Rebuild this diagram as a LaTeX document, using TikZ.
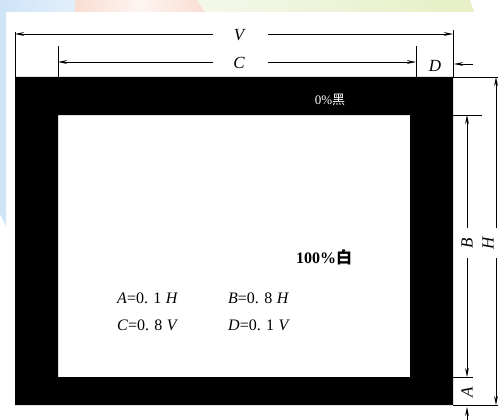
\documentclass[tikz,border=0pt]{standalone}
\usepackage{fontspec}
\setmainfont{Liberation Serif}
\newfontfamily\cjk{Noto Sans CJK SC}
\usetikzlibrary{arrows.meta}
\definecolor{bgblue}{HTML}{CFE4F8}
\definecolor{bgbluel}{HTML}{E2EFFB}
\definecolor{bgpink}{HTML}{FADDD2}
\definecolor{bgpinkl}{HTML}{FDF5F1}
\definecolor{bggreen}{HTML}{E6EFC4}
\definecolor{bggreenl}{HTML}{F3F8EA}
\begin{document}
\begin{tikzpicture}[x=1pt,y=-1pt,
  dim/.style={line width=0.8pt},
  arr/.style={dim,-{Stealth[length=9pt,width=3.8pt]}},
  lbl/.style={inner sep=0pt,font=\fontsize{17}{17}\selectfont\itshape},
  eq/.style={inner sep=0pt,anchor=west,font=\fontsize{16}{16}\selectfont}]
\useasboundingbox (0,0) rectangle (498,420);
\fill[white] (0,0) rectangle (498,420);
% decorative background
\shade[left color=bgblue,right color=bgbluel] (0,0) -- (75,0) -- (75,12) -- (6,12) -- (6,226) -- (0,214) -- cycle;
\shade[left color=bgpink,right color=bgpink,middle color=bgpinkl] (75,0) -- (197,0) -- (205,12) -- (75,12) -- cycle;
\shade[left color=bggreenl,right color=bggreen] (197,0) -- (470,0) -- (474,12) -- (205,12) -- cycle;
% black frame
\fill[black,even odd rule] (15,77) rectangle (453,405) (58,115) rectangle (410,377);
% coordinates
\coordinate (oTL) at (15,77);
\coordinate (oTR) at (453,77);
\coordinate (oBR) at (453,405);
\coordinate (cL) at (58,77);
\coordinate (cR) at (416,77);
\coordinate (eTL) at (15,32);
\coordinate (eTR) at (453,30);
\coordinate (ecL) at (58,46);
\coordinate (ecR) at (416,46);
\coordinate (hT) at (498,77);
\coordinate (hB) at (498,405);
\coordinate (bT0) at (453,115);
\coordinate (bT1) at (482,115);
\coordinate (bB0) at (453,377);
\coordinate (bB1) at (473,377);
% extension lines
\draw[dim] (eTL) -- (oTL);
\draw[dim] (eTR) -- (oTR);
\draw[dim] (ecL) -- (cL);
\draw[dim] (ecR) -- (cR);
\draw[dim] (oTR) -- (hT);
\draw[dim] (bT0) -- (bT1);
\draw[dim] (bB0) -- (bB1);
\draw[dim] (oBR) -- (hB);
% V
\node[lbl] (V) at (239,35) {V};
\coordinate (V1) at (213,34); \coordinate (V0) at (15,34);
\coordinate (V2) at (268,34); \coordinate (V3) at (453,34);
\draw[arr] (V1) -- (V0);
\draw[arr] (V2) -- (V3);
% C
\node[lbl] (C) at (239,63) {C};
\coordinate (C1) at (213,62); \coordinate (C0) at (58,62);
\coordinate (C2) at (268,62); \coordinate (C3) at (416,62);
\draw[arr] (C1) -- (C0);
\draw[arr] (C2) -- (C3);
% D
\node[lbl] (D) at (435,66) {D};
\coordinate (D1) at (473,64); \coordinate (D0) at (454,64);
\draw[arr] (D1) -- (D0);
% B
\node[lbl,rotate=90] (B) at (467,243) {B};
\coordinate (B1) at (467,228); \coordinate (B0) at (467,115);
\coordinate (B2) at (467,258); \coordinate (B3) at (467,377);
\draw[arr] (B1) -- (B0);
\draw[arr] (B2) -- (B3);
% H
\node[lbl,rotate=90] (H) at (488,243) {H};
\coordinate (H1) at (496,228); \coordinate (H0) at (496,77);
\coordinate (H2) at (496,258); \coordinate (H3) at (496,405);
\draw[arr] (H1) -- (H0);
\draw[arr] (H2) -- (H3);
% A
\node[lbl,rotate=90] (A) at (467,392) {A};
\coordinate (A1) at (467,421); \coordinate (A0) at (467,407);
\draw[arr] (A1) -- (A0);
% texts
\node[inner sep=0pt,text=white,font=\fontsize{13}{13}\selectfont] (black) at (330,100) {0\%{\cjk 黑}};
\node[inner sep=0pt,font=\fontsize{16}{16}\selectfont\bfseries] (white) at (324,257) {100\%{\cjk 白}};
\node[eq] (eqA) at (117,298) {\textit{A}=0.\,\,1\;\textit{H}};
\node[eq] (eqB) at (228,298) {\textit{B}=0.\,\,8\;\textit{H}};
\node[eq] (eqC) at (117,325) {\textit{C}=0.\,\,8\;\textit{V}};
\node[eq] (eqD) at (228,325) {\textit{D}=0.\,\,1\;\textit{V}};
\end{tikzpicture}
\end{document}
